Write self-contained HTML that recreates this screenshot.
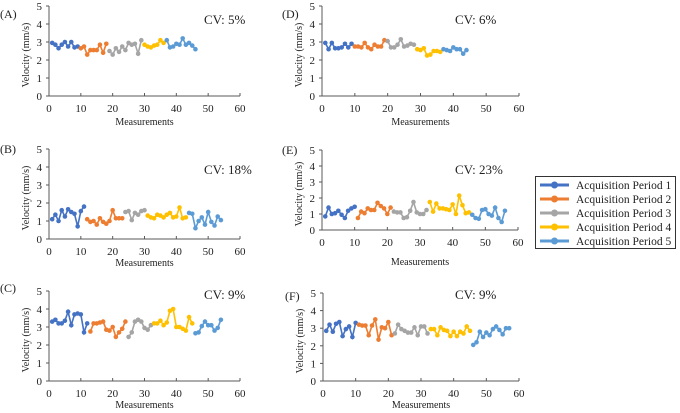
<!DOCTYPE html>
<html><head><meta charset="utf-8"><style>
body{margin:0;background:#fff;width:680px;height:413px;overflow:hidden}
svg{display:block;font-family:"Liberation Serif","DejaVu Serif",serif}
svg text{font-family:"Liberation Serif","DejaVu Serif",serif}
</style></head><body>
<svg id="chart" width="680" height="413"></svg>
<script>
const periodNames=["Acquisition Period 1","Acquisition Period 2","Acquisition Period 3","Acquisition Period 4","Acquisition Period 5"];
const xTicks=[0,10,20,30,40,50,60];
const yTicks=[0,1,2,3,4,5];
const panelLabels=["(A)","(B)","(C)","(D)","(E)","(F)"];
const cvLabels=["CV: 5%","CV: 18%","CV: 9%","CV: 6%","CV: 23%","CV: 9%"];
const startA=[1,10,19,30,37];
const dataA=[[2.95,2.85,2.65,2.85,3.0,2.75,3.0,2.7,2.75],[2.65,2.75,2.3,2.55,2.55,2.55,2.85,2.4,2.9],[2.5,2.3,2.65,2.45,2.75,2.55,2.95,2.85,2.9,2.35,3.1],[2.85,2.75,2.7,2.8,2.85,3.1,2.95],[3.1,2.7,2.75,2.9,2.85,3.2,2.85,2.95,2.8,2.6]];
const startB=[1,12,24,31,44];
const dataB=[[1.1,1.35,1.0,1.6,1.25,1.65,1.5,1.4,0.7,1.55,1.8],[1.1,0.95,1.0,0.8,1.15,0.95,0.85,1.0,1.6,1.15,1.15,1.15],[1.5,1.55,1.05,1.45,1.35,1.55,1.6],[1.3,1.2,1.15,1.35,1.3,1.2,1.35,1.45,1.2,1.25,1.75,1.15,1.2],[1.45,1.4,0.6,1.0,1.2,0.8,1.5,0.95,0.75,1.25,1.05]];
const startC=[1,13,25,33,46];
const dataC=[[3.3,3.4,3.2,3.2,3.35,3.85,3.1,3.7,3.75,3.7,2.7,3.2],[2.75,3.2,3.2,3.25,3.3,2.85,2.8,3.0,2.45,2.7,2.9,3.3],[2.45,2.7,3.3,3.4,3.3,2.95,2.85,3.1],[3.2,3.2,3.35,3.1,3.25,3.9,4.0,3.0,3.0,2.9,2.8,3.55,3.2],[2.65,2.7,3.05,3.3,3.1,3.1,2.8,2.95,3.4]];
const startD=[1,10,20,29,37];
const dataD=[[2.95,2.6,2.95,2.65,2.65,2.7,2.9,2.7,2.9],[2.75,2.75,2.7,2.95,2.7,2.6,2.85,2.75,2.75,3.1],[3.05,2.7,2.7,2.85,3.15,2.75,2.8,2.9,2.85],[2.6,2.55,2.65,2.25,2.3,2.5,2.5,2.45],[2.6,2.55,2.5,2.7,2.6,2.6,2.35,2.55]];
const startE=[1,11,22,33,46];
const dataE=[[0.85,1.4,1.0,1.05,1.2,0.95,0.75,1.2,1.35,1.45],[0.75,1.15,1.05,1.35,1.25,1.25,1.7,1.5,1.35,1.0,1.4],[1.15,1.1,1.1,0.75,0.8,1.2,1.75,1.1,1.0,1.0,1.25],[1.75,1.15,1.65,1.35,1.35,1.3,1.25,1.6,1.0,2.15,1.55,1.05,1.1],[0.95,0.75,0.7,1.25,1.3,1.0,0.9,1.4,0.75,0.5,1.2]];
const startF=[1,11,22,33,46];
const dataF=[[2.85,3.2,2.8,3.25,3.35,2.55,2.95,3.1,2.5,3.3],[3.2,3.15,3.15,2.6,3.15,3.5,2.35,3.05,3.0,3.35,2.6],[2.7,3.2,2.95,2.85,2.75,2.75,3.05,2.6,3.1,3.1,2.7],[2.95,2.95,2.6,3.05,2.9,2.85,2.55,2.8,2.55,2.8,2.7,3.1,2.85],[2.05,2.2,2.8,2.5,2.75,2.6,2.95,3.1,2.9,2.65,3.0,3.0]];
const colors=["#4472C4","#ED7D31","#A5A5A5","#FFC000","#5B9BD5"];
const NS="http://www.w3.org/2000/svg";
const svg=document.getElementById('chart');
function mk(tag,attrs,parent,text){const e=document.createElementNS(NS,tag);for(const k in attrs)e.setAttribute(k,attrs[k]);if(text!==undefined){e.textContent=text;e.setAttribute('font-family','Liberation Serif, serif');}(parent||svg).appendChild(e);return e;}
const layout=[
 {x0:49,x1:240,y0:96,y1:6,lx:0,ly:18,cx:204,cy:24,my:125},
 {x0:49,x1:240,y0:239,y1:149,lx:0,ly:153,cx:204,cy:174,my:266},
 {x0:49,x1:240,y0:381,y1:291,lx:0,ly:292,cx:204,cy:299,my:408},
 {x0:322,x1:519,y0:96,y1:6,lx:282,ly:18,cx:455,cy:24,my:125},
 {x0:322,x1:518,y0:230,y1:150,lx:282,ly:154,cx:455,cy:174,my:265},
 {x0:323,x1:519,y0:381,y1:293,lx:285,ly:300,cx:455,cy:299,my:408}];
const allData=[dataA,dataB,dataC,dataD,dataE,dataF];
const allStart=[startA,startB,startC,startD,startE,startF];
layout.forEach((L,pi)=>{
 const g=mk('g',{});
 
 
 const sx=v=>L.x0+(L.x1-L.x0)*v/60, sy=v=>L.y0-(L.y0-L.y1)*v/5;
 const ax=mk('path',{d:`M${L.x0},${L.y1}V${L.y0}H${L.x1}`,stroke:'#595959','stroke-width':1,fill:'none'},g);
 
 yTicks.forEach(t=>{mk('line',{x1:L.x0-3,x2:L.x0,y1:sy(t),y2:sy(t),stroke:'#595959'},g);
  const tl=mk('text',{x:L.x0-7,y:sy(t)+4,'text-anchor':'end','font-size':11,fill:'#222'},g,t);
  });
 xTicks.forEach(t=>{mk('line',{x1:sx(t),x2:sx(t),y1:L.y0-3,y2:L.y0,stroke:'#595959'},g);
  const tl=mk('text',{x:sx(t),y:L.y0+16,'text-anchor':'middle','font-size':11,fill:'#222'},g,t);
  });
 const yt=mk('text',{x:0,y:0,transform:`translate(${L.x0-20},${(L.y0+L.y1)/2+4}) rotate(-90)`,'text-anchor':'middle','font-size':10,fill:'#222'},g,'Velocity  (mm/s)');
 
 const xt=mk('text',{x:(L.x0+L.x1)/2,y:L.my,'text-anchor':'middle','font-size':10,fill:'#222'},g,'Measurements');
 
 const pl=mk('text',{x:L.lx,y:L.ly,'font-size':12,fill:'#222'},g,panelLabels[pi]);
 
 const cv=mk('text',{x:L.cx,y:L.cy,'font-size':13,fill:'#222'},g,cvLabels[pi]);
 
 allData[pi].forEach((ser,si)=>{
  const st=allStart[pi][si];
  const pts=ser.map((v,i)=>[sx(st+i),sy(v)]);
  const ln=mk('polyline',{points:pts.map(p=>p.join(',')).join(' '),fill:'none',stroke:colors[si],'stroke-width':1.6},g);
  
  
  pts.forEach(p=>{const c=mk('circle',{cx:p[0],cy:p[1],r:2.3,fill:colors[si]},g);
   
   });
 });
});
const lg=mk('g',{});


mk('rect',{x:535.5,y:176.5,width:140,height:72,fill:'#fff',stroke:'#333','stroke-width':1},lg);
periodNames.forEach((n,i)=>{const y=185+i*14;
 const e=mk('g',{},lg);
 
 
 mk('line',{x1:540,x2:569,y1:y,y2:y,stroke:colors[i],'stroke-width':3},e);
 mk('circle',{cx:554.5,cy:y,r:3.5,fill:colors[i]},e);
 mk('text',{x:576,y:y+4,'font-size':11.5,fill:'#222'},e,n);});
</script>
</body></html>
